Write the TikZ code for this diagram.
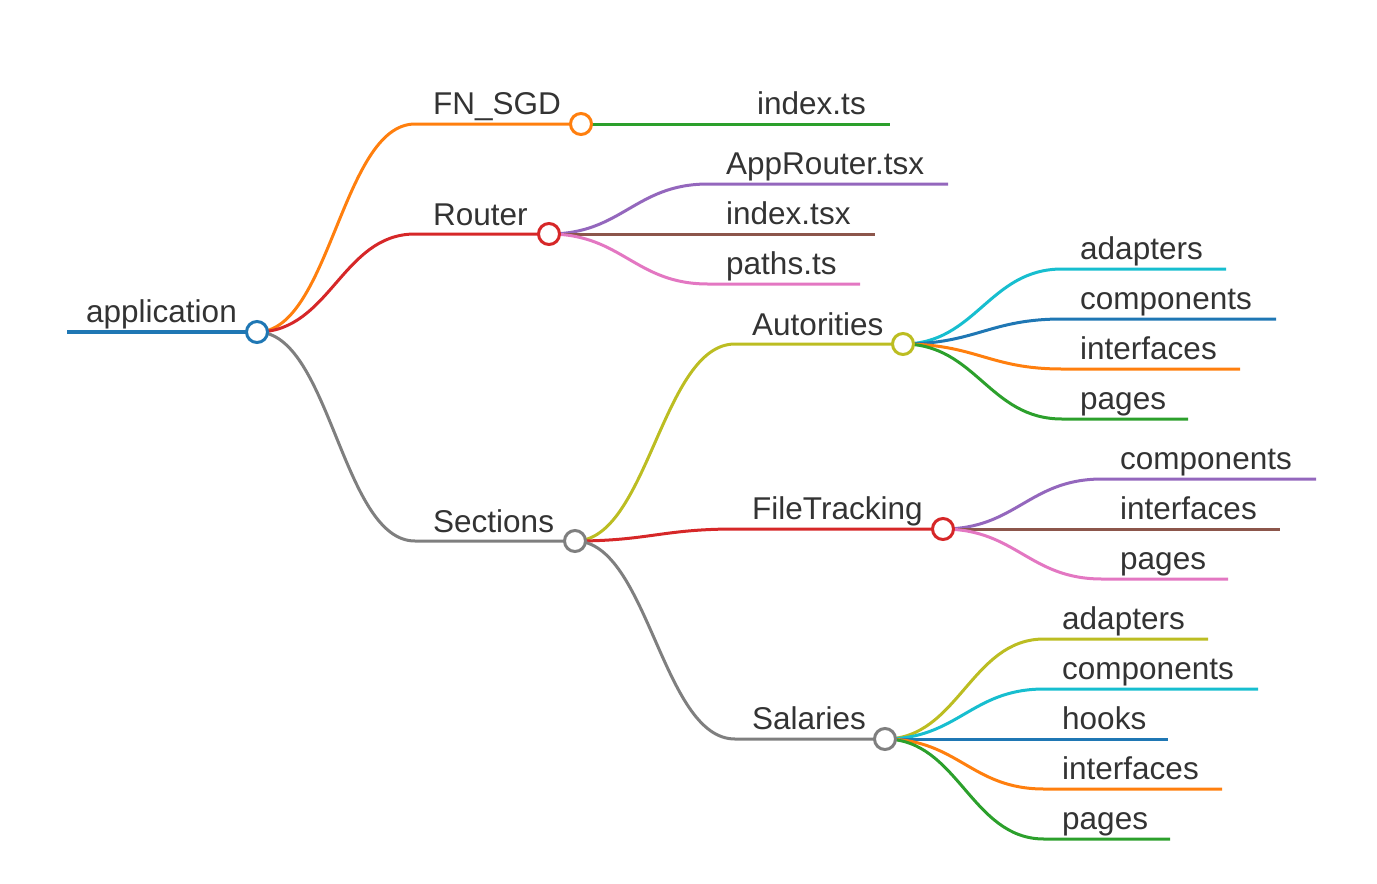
\documentclass[tikz,border=0pt]{standalone}
\usepackage{fontspec}
\setmainfont{Liberation Sans}
\definecolor{cblue}{HTML}{1F77B4}
\definecolor{corange}{HTML}{FF7F0E}
\definecolor{cgreen}{HTML}{2CA02C}
\definecolor{cred}{HTML}{D62728}
\definecolor{cpurple}{HTML}{9467BD}
\definecolor{cbrown}{HTML}{8C564B}
\definecolor{cpink}{HTML}{E377C2}
\definecolor{cgray}{HTML}{7F7F7F}
\definecolor{colive}{HTML}{BCBD22}
\definecolor{ccyan}{HTML}{17BECF}
\definecolor{txt}{HTML}{333333}
\begin{document}
\begin{tikzpicture}[x=1pt,y=-1pt,
  lbl/.style={anchor=base west, inner sep=0pt, text=txt, font=\fontsize{31.5}{36}\selectfont},
  lnk/.style={line width=3pt},
  dot/.style={circle, draw=#1, fill=white, line width=3pt, minimum size=21pt, inner sep=0pt},
  crv/.style={to path={.. controls +(73,0) and +(-73,0) .. (\tikztotarget)}}]
\useasboundingbox (0,0) rectangle (1377,884);
% coordinates
\coordinate (R) at (257,332);
\coordinate (Rl) at (67,332);
\coordinate (FNs) at (415,124); \coordinate (FN) at (581,124);
\coordinate (ROs) at (415,234); \coordinate (RO) at (549,234);
\coordinate (SEs) at (415,541); \coordinate (SE) at (575,541);
\coordinate (AUs) at (735,344); \coordinate (AU) at (903,344);
\coordinate (FTs) at (735,529); \coordinate (FT) at (943,529);
\coordinate (SAs) at (735,739); \coordinate (SA) at (885,739);
% leaves
\coordinate (ix1) at (890,124);
\coordinate (ar1) at (708,184); \coordinate (ar2) at (948,184);
\coordinate (it1) at (708,234); \coordinate (it2) at (875,234);
\coordinate (pt1) at (708,284); \coordinate (pt2) at (860,284);
\coordinate (aa1) at (1062,269); \coordinate (aa2) at (1226,269);
\coordinate (ac1) at (1062,319); \coordinate (ac2) at (1276,319);
\coordinate (ai1) at (1062,369); \coordinate (ai2) at (1240,369);
\coordinate (ap1) at (1062,419); \coordinate (ap2) at (1188,419);
\coordinate (fc1) at (1102,479); \coordinate (fc2) at (1316,479);
\coordinate (fi1) at (1102,529); \coordinate (fi2) at (1280,529);
\coordinate (fp1) at (1102,579); \coordinate (fp2) at (1228,579);
\coordinate (sa1) at (1044,639); \coordinate (sa2) at (1208,639);
\coordinate (sc1) at (1044,689); \coordinate (sc2) at (1258,689);
\coordinate (sh1) at (1044,739); \coordinate (sh2) at (1168,739);
\coordinate (si1) at (1044,789); \coordinate (si2) at (1222,789);
\coordinate (sp1) at (1044,839); \coordinate (sp2) at (1170,839);
% links
\draw[line width=3.8pt, cblue] (Rl) -- (R);
\draw[lnk, corange] (R) to[crv] (FNs) -- (FN);
\draw[lnk, cred] (R) to[crv] (ROs) -- (RO);
\draw[lnk, cgray] (R) to[crv] (SEs) -- (SE);
\draw[lnk, cgreen] (FN) -- (ix1);
\draw[lnk, cpurple] (RO) to[crv] (ar1) -- (ar2);
\draw[lnk, cbrown] (RO) -- (it2);
\draw[lnk, cpink] (RO) to[crv] (pt1) -- (pt2);
\draw[lnk, colive] (SE) to[crv] (AUs) -- (AU);
\draw[lnk, cred] (SE) to[crv] (FTs) -- (FT);
\draw[lnk, cgray] (SE) to[crv] (SAs) -- (SA);
\draw[lnk, ccyan] (AU) to[crv] (aa1) -- (aa2);
\draw[lnk, cblue] (AU) to[crv] (ac1) -- (ac2);
\draw[lnk, corange] (AU) to[crv] (ai1) -- (ai2);
\draw[lnk, cgreen] (AU) to[crv] (ap1) -- (ap2);
\draw[lnk, cpurple] (FT) to[crv] (fc1) -- (fc2);
\draw[lnk, cbrown] (FT) -- (fi2);
\draw[lnk, cpink] (FT) to[crv] (fp1) -- (fp2);
\draw[lnk, colive] (SA) to[crv] (sa1) -- (sa2);
\draw[lnk, ccyan] (SA) to[crv] (sc1) -- (sc2);
\draw[lnk, cblue] (SA) -- (sh2);
\draw[lnk, corange] (SA) to[crv] (si1) -- (si2);
\draw[lnk, cgreen] (SA) to[crv] (sp1) -- (sp2);
% circles
\node[dot=cblue] (Rd) at (R) {};
\node[dot=corange] (FNd) at (FN) {};
\node[dot=cred] (ROd) at (RO) {};
\node[dot=cgray] (SEd) at (SE) {};
\node[dot=colive] (AUd) at (AU) {};
\node[dot=cred] (FTd) at (FT) {};
\node[dot=cgray] (SAd) at (SA) {};
% labels
\node[lbl] (tR) at (86,322) {application};
\node[lbl] (tFN) at (433,114) {FN\_SGD};
\node[lbl] (tRO) at (433,225) {Router};
\node[lbl] (tSE) at (433,532) {Sections};
\node[lbl] (tix) at (757,114) {index.ts};
\node[lbl] (tar) at (726,174) {AppRouter.tsx};
\node[lbl] (tit) at (726,224) {index.tsx};
\node[lbl] (tpt) at (726,274) {paths.ts};
\node[lbl] (tAU) at (752,335) {Autorities};
\node[lbl] (tFT) at (752,519) {FileTracking};
\node[lbl] (tSA) at (752,729) {Salaries};
\node[lbl] (taa) at (1080,259) {adapters};
\node[lbl] (tac) at (1080,309) {components};
\node[lbl] (tai) at (1080,359) {interfaces};
\node[lbl] (tap) at (1080,409) {pages};
\node[lbl] (tfc) at (1120,469) {components};
\node[lbl] (tfi) at (1120,519) {interfaces};
\node[lbl] (tfp) at (1120,569) {pages};
\node[lbl] (tsa) at (1062,629) {adapters};
\node[lbl] (tsc) at (1062,679) {components};
\node[lbl] (tsh) at (1062,729) {hooks};
\node[lbl] (tsi) at (1062,779) {interfaces};
\node[lbl] (tsp) at (1062,829) {pages};
\end{tikzpicture}
\end{document}
